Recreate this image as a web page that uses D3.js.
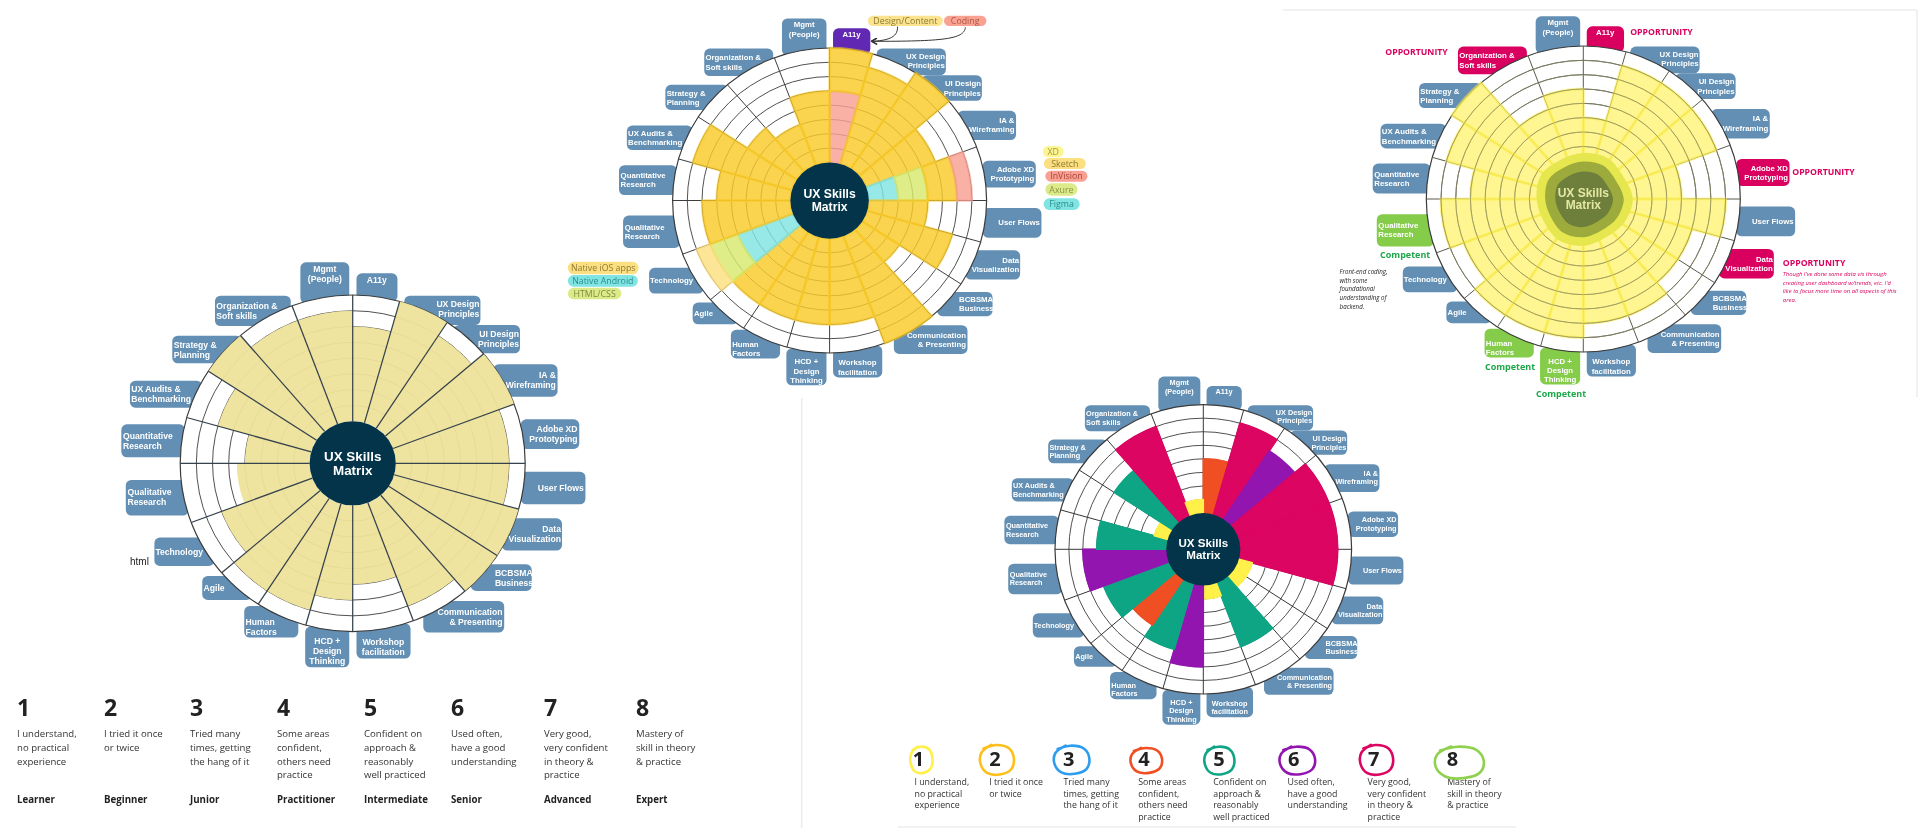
<!DOCTYPE html>
<html><head><meta charset="utf-8">
<script src="https://cdnjs.cloudflare.com/ajax/libs/d3/7.8.5/d3.min.js"></script>
<style>html,body{margin:0;padding:0;background:#fff}svg{display:block;filter:blur(.4px)}</style>
</head><body><svg id="c" width="1920" height="828"></svg>
<script>
const categories=["A11y","UX Design|Principles","UI Design|Principles","IA &|Wireframing","Adobe XD|Prototyping","User Flows","Data|Visualization","BCBSMA|Business","Communication|& Presenting","Workshop|facilitation","HCD +|Design|Thinking","Human|Factors","Agile","Technology","Qualitative|Research","Quantitative|Research","UX Audits &|Benchmarking","Strategy &|Planning","Organization &|Soft skills","Mgmt|(People)"];
const beigeValues =[6,8,7,8,7,7,8,8,7,5,6,7,7,6,4.5,4,6,8,7,7];
const goldValues  =[8,7,8,5,6,4,6,3,8,6,6,6,6,7,6,5,7,4,3,5];
const paleValues  =[3,7,7,7,4,7,5,5,6,6,7,7,7,6,7,5,7,8,4,5];
const skillValues =[4,7,6,7,7,7,1,1,5,1,6,5,4,5,6,5,1,5,7,1];
const goldStacks={0:[[5,"coral"],[3,"gold"]],4:[[2,"figma"],[2,"axure"],[2,"gold"],[1,"coral"]],13:[[4,"figma"],[2,"axure"],[1,"ios"]]};
const levels=["1","2","3","4","5","6","7","8"];
const levelDescriptions=[["I understand,","no practical","experience"],["I tried it once","or twice"],["Tried many","times, getting","the hang of it"],["Some areas","confident,","others need","practice"],["Confident on","approach &","reasonably","well practiced"],["Used often,","have a good","understanding"],["Very good,","very confident","in theory &","practice"],["Mastery of","skill in theory","& practice"]];
const levelNames=["Learner","Beginner","Junior","Practitioner","Intermediate","Senior","Advanced","Expert"];
const levelColors=["#fff04a","#fdbf1a","#2e9df0","#f04e23","#0ea585","#9315b0","#dc0561","#8fd14f"];
const pal={gold:"#f9c928",coral:"#f8a092",figma:"#7fe4e2",axure:"#d8e96e",ios:"#fbdf80",beige:"#ede19a",pale:"#fff25e"};

const quarter=d3.scaleLinear().domain([0,1,2,3,4,5]).range([0,15.8,33.2,49.4,69.4,90]);
const edge=i=>{const q=Math.floor(i/5);return (q*90+quarter(i-q*5))*Math.PI/180;};
// label tab geometry in reference units of a template circle (radius 501 / 505, centre 792,670)
const tabs=[[803,100,922,185,"middle",862,120],[942,167,1163,255,"end",1160,192],[1085,255,1278,340,"end",1275,283],[1200,373,1387,470,"end",1382,405],[1280,538,1450,627,"end",1445,567],[1280,695,1468,793,"end",1463,743],[1225,835,1400,932,"end",1397,868],[1135,973,1312,1053,"start",1205,998],[997,1083,1232,1178,"end",1227,1116],[803,1150,960,1256,"middle",881,1207],[654,1160,782,1282,"middle",718,1204],[477,1098,634,1193,"start",481,1145],[355,1008,500,1080,"start",359,1043],[216,893,390,978,"start",219,935],[133,720,315,827,"start",138,757],[120,553,305,652,"start",125,587],[145,422,355,503,"start",149,448],[268,287,470,370,"start",272,314],[392,167,612,258,"start",396,197],[640,67,782,190,"middle",711,88]];
const svg=d3.select("#c");
const SANS="'Liberation Sans',Arial,sans-serif",OPEN="'Open Sans',sans-serif";

function chart(o){
  const g=svg.append("g").attr("transform",`translate(${o.cx},${o.cy})`);
  const sx=o.rx/501,sy=o.ry/505,fs=o.fs;
  const X=v=>(v-792)*sx,Y=v=>(v-670)*sy;
  categories.forEach((c,i)=>{const t=tabs[i];
    g.append("rect").attr("x",X(t[0])).attr("y",Y(t[1])).attr("width",(t[2]-t[0])*sx).attr("height",(t[3]-t[1])*sy).attr("rx",5.5).attr("fill",(o.tabColor&&o.tabColor[i])||"#628fb3");
    c.split("|").forEach((l,j)=>g.append("text").attr("x",X(t[5])).attr("y",Y(t[6])+j*fs*1.17).attr("dy",".35em").attr("text-anchor",t[4]).attr("font-family",SANS).attr("font-weight",700).attr("font-size",fs).attr("fill","#fff").text(l));
  });
  const p=g.append("g").attr("transform",`scale(1,${o.ry/o.rx})`);
  const r=d3.scaleLinear().domain([0,8]).range([o.rx*0.25,o.rx]);
  p.append("circle").attr("r",o.rx).attr("fill","#fff");
  const rings=sel=>{d3.range(1,9).forEach(l=>sel.append("circle").attr("r",r(l)).attr("fill","none").attr("stroke",o.ringColor||"#3b3b3b").attr("stroke-width",l==8?1.2:.9));};
  rings(p.append("g"));
  const spokes=()=>{const s=p.append("g");d3.range(20).forEach(i=>{const a=edge(i);s.append("line").attr("x1",r(0)*Math.sin(a)).attr("y1",-r(0)*Math.cos(a)).attr("x2",r(8)*Math.sin(a)).attr("y2",-r(8)*Math.cos(a)).attr("stroke",o.spoke).attr("stroke-width",o.spokeW);});};
  if(!o.spokesTop)spokes();
  const arc=d3.arc();
  o.values.forEach((v,i)=>{
    const seg=(o.stacks&&o.stacks[i])||[[v,o.key]];
    let base=0;
    seg.forEach(([n,k])=>{
      p.append("path").attr("d",arc({innerRadius:r(base),outerRadius:r(base+n),startAngle:edge(i),endAngle:edge(i+1)})).attr("fill",o.color?o.color(v,k):pal[k]).attr("fill-opacity",o.op).attr("stroke",o.edge||(o.color?o.color(v,k):pal[k])).attr("stroke-opacity",o.edgeOp).attr("stroke-width",o.edgeW).attr("stroke-linejoin","round");
      base+=n;});
  });
  if(o.ringOver){const s=p.append("g");d3.range(1,8).forEach(l=>s.append("circle").attr("r",r(l)).attr("fill","none").attr("stroke",o.ringOver).attr("stroke-width",.7));}
  if(o.spokesTop)spokes();
  if(o.center)o.center(p,r); else p.append("circle").attr("r",r(0)).attr("fill","#04344a");
  const cs=o.cfs;
  g.append("text").attr("y",-cs*.52).attr("dy",".35em").attr("text-anchor","middle").attr("font-family",SANS).attr("font-weight",700).attr("font-size",cs).attr("fill",o.centerText||"#fff").text("UX Skills");
  g.append("text").attr("y",cs*.52).attr("dy",".35em").attr("text-anchor","middle").attr("font-family",SANS).attr("font-weight",700).attr("font-size",cs).attr("fill",o.centerText||"#fff").text("Matrix");
}
chart({cx:352.7,cy:463.3,rx:172.5,ry:168.3,fs:8.6,cfs:13.4,values:beigeValues,key:"beige",op:.95,edgeOp:0,edgeW:0,spoke:"#36424c",spokeW:1.25,spokesTop:true});
const goldTabs={0:"#6128b4"};
chart({cx:829.6,cy:200.5,rx:157,ry:152.5,fs:7.8,cfs:12.2,values:goldValues,stacks:goldStacks,key:"gold",op:.82,edgeOp:.6,edgeW:2.6,spoke:"#3b3b3b",spokeW:1,tabColor:goldTabs});
const paleTabs={0:"#d9005f",18:"#d9005f",4:"#d9005f",6:"#d9005f",14:"#84cc4a",11:"#84cc4a",10:"#84cc4a"};
const wobble=[1,1.03,.98,1.05,1.01,.96,1.02,1.04,.97,.99,1.04,.98];
const blob=d3.lineRadial().curve(d3.curveCardinalClosed).angle((d,i)=>i/wobble.length*2*Math.PI).radius(d=>d);
chart({cx:1583.3,cy:199,rx:157,ry:153,fs:7.8,cfs:12,values:paleValues,key:"pale",op:.68,edge:"#fbee55",edgeOp:.6,edgeW:3,spoke:"#57574a",spokeW:1,tabColor:paleTabs,centerText:"#e4e8a4",ringOver:"#8f8f62",
  center:(p,r)=>{const R=r(0);
    [[1.2,"#e6e64e"],[.98,"#9dab3c"],[.72,"#6d7f3a"]].forEach(([f,c])=>p.append("path").attr("d",blob(wobble.map(w=>w*R*f))).attr("fill",c));}});
chart({cx:1203.3,cy:549.3,rx:148.3,ry:144.7,fs:7.3,cfs:11.6,values:skillValues,color:v=>levelColors[v-1],op:1,edgeOp:1,edgeW:1.6,spoke:"#333",spokeW:1});

// chart 1 side note
svg.append("text").attr("x",130).attr("y",565).attr("font-family",SANS).attr("font-size",10).attr("fill","#222").text("html");

// pills on gold chart
const gx=v=>550+v/2.8,gy=v=>v/3;
const pills=[["Design/Content",890,1100,47,78,"#fbe38f","#8a7a33"],["Coding",1103,1222,47,78,"#f9a292","#a9574a"],["XD",1380,1438,438,472,"#fdf590","#a09a45"],["Sketch",1383,1500,474,507,"#fbdf80","#8f7a35"],["InVision",1387,1505,512,545,"#f8a092","#a9453a"],["Axure",1387,1477,550,587,"#dcea8a","#8a9440"],["Figma",1382,1483,595,630,"#7fe4e2","#2c8e8c"],["Native iOS apps",50,248,785,823,"#fbdf80","#8f7a35"],["Native Android",50,246,825,860,"#7fe4e2","#2c8e8c"],["HTML/CSS",50,200,863,898,"#dcea8a","#7f8a3c"]];
pills.forEach(([t,a,b,c,d,f,tc])=>{
  svg.append("rect").attr("x",gx(a)).attr("y",gy(c)).attr("width",(b-a)/2.8).attr("height",(d-c)/3).attr("rx",(d-c)/6).attr("fill",f);
  svg.append("text").attr("x",(gx(a)+gx(b))/2).attr("y",(gy(c)+gy(d))/2).attr("dy",".35em").attr("text-anchor","middle").attr("font-family",OPEN).attr("font-size",8.8).attr("fill",tc).text(t);
});
const defs=svg.append("defs");
defs.append("marker").attr("id","ah").attr("viewBox","0 0 10 10").attr("refX",9).attr("refY",5).attr("markerWidth",7).attr("markerHeight",7).attr("markerUnits","userSpaceOnUse").attr("orient","auto").append("path").attr("d","M1,0.5L9,5L1,9.5").attr("fill","none").attr("stroke","#333").attr("stroke-width",1.8);
[[973,80,975,115,940,122,900,124],[1163,82,1160,118,1100,124,900,124]].forEach(c=>{
  const q=d3.path();q.moveTo(gx(c[0]),gy(c[1]));q.bezierCurveTo(gx(c[2]),gy(c[3]),gx(c[4]),gy(c[5]),gx(c[6]),gy(c[7]));
  svg.append("path").attr("d",q).attr("fill","none").attr("stroke","#333").attr("stroke-width",1).attr("marker-end","url(#ah)");
});

// annotations on pale chart
const px=v=>1280+v/2.45,py=v=>v/3;
const magenta="#d9005f",green="#1ea84a";
[[858,97],[258,157],[1255,517],[1232,790]].forEach(([x,y])=>svg.append("text").attr("x",px(x)).attr("y",py(y)).attr("dy",".35em").attr("font-family",OPEN).attr("font-weight",700).attr("font-size",8.7).attr("fill",magenta).text("OPPORTUNITY"));
[[245,766],[502,1101],[627,1182]].forEach(([x,y])=>svg.append("text").attr("x",px(x)).attr("y",py(y)).attr("dy",".35em").attr("font-family",OPEN).attr("font-weight",700).attr("font-size",9).attr("fill",green).text("Competent"));
["Front-end coding,","with some","foundational","understanding of","backend."].forEach((t,i)=>svg.append("text").attr("x",px(146)).attr("y",py(815)+i*8.7).attr("dy",".35em").attr("font-family",OPEN).attr("font-style","italic").attr("font-size",6.2).attr("fill","#222").text(t));
["Though I've done some data vis through","creating user dashboard w/trends, etc. I'd","like to focus more time on all aspects of this","area."].forEach((t,i)=>svg.append("text").attr("x",px(1232)).attr("y",py(821)+i*8.8).attr("dy",".35em").attr("font-family",OPEN).attr("font-style","italic").attr("font-size",5.9).attr("fill",magenta).text(t));
// faint page rules
[[1283,10,1917,10],[1917,10,1917,397],[801.7,398,801.7,828],[898,827,1516,827]].forEach(l=>svg.append("line").attr("x1",l[0]).attr("y1",l[1]).attr("x2",l[2]).attr("y2",l[3]).attr("stroke","#ececec").attr("stroke-width",1.5));

// level legend 1
const legendAX=[17,104,190,277,364,451,544,636];
levels.forEach((n,i)=>{const x=legendAX[i];
  svg.append("text").attr("x",x).attr("y",708).attr("dy",".35em").attr("font-family",OPEN).attr("font-weight",700).attr("font-size",23).attr("fill","#222").text(n);
  levelDescriptions[i].forEach((l,j)=>svg.append("text").attr("x",x).attr("y",734+j*13.6).attr("dy",".35em").attr("font-family",OPEN).attr("font-size",9.6).attr("fill","#333").text(l));
  svg.append("text").attr("x",x).attr("y",800).attr("dy",".35em").attr("font-family",OPEN).attr("font-weight",700).attr("font-size",9.7).attr("fill","#222").text(levelNames[i]);
});
// level legend 2
const legendBNum=[70,257,438,622,806,989,1185,1378],legendBText=[60,243,425,608,792,974,1170,1365];
const ringShape=[[77,90,28,40],[262,90,43,45],[445,90,45,43],[628,92,40,38],[807,92,38,42],[998,92,45,42],[1192,90,42,45],[1395,98,62,48]];
const ringWobble=[1.08,1,1.04,.97,1.02,.98,1.03,.97,1.01,1.06];
const bx=v=>890+v/2.45,by=v=>730+v/3;
const sketch=d3.line().curve(d3.curveCatmullRom);
levels.forEach((n,i)=>{
  levelDescriptions[i].forEach((l,j)=>svg.append("text").attr("x",bx(legendBText[i])).attr("y",by(156)+j*11.7).attr("dy",".35em").attr("font-family",OPEN).attr("font-size",8.8).attr("fill","#333").text(l));
  const s=ringShape[i],n1=ringWobble.length-1;
  const pts=ringWobble.map((w,k)=>{const a=(-0.25+k/n1*2.15)*Math.PI;return [bx(s[0])+s[2]/2.45*w*Math.sin(a),by(s[1])-s[3]/3*w*Math.cos(a)];});
  svg.append("path").attr("d",sketch(pts)).attr("fill","none").attr("stroke",levelColors[i]).attr("stroke-width",2.6).attr("stroke-linecap","round");
  svg.append("text").attr("x",bx(legendBNum[i])).attr("y",by(88)).attr("dy",".35em").attr("text-anchor","middle").attr("font-family",OPEN).attr("font-weight",700).attr("font-size",20).attr("fill","#222").text(n);
});
</script></body></html>
